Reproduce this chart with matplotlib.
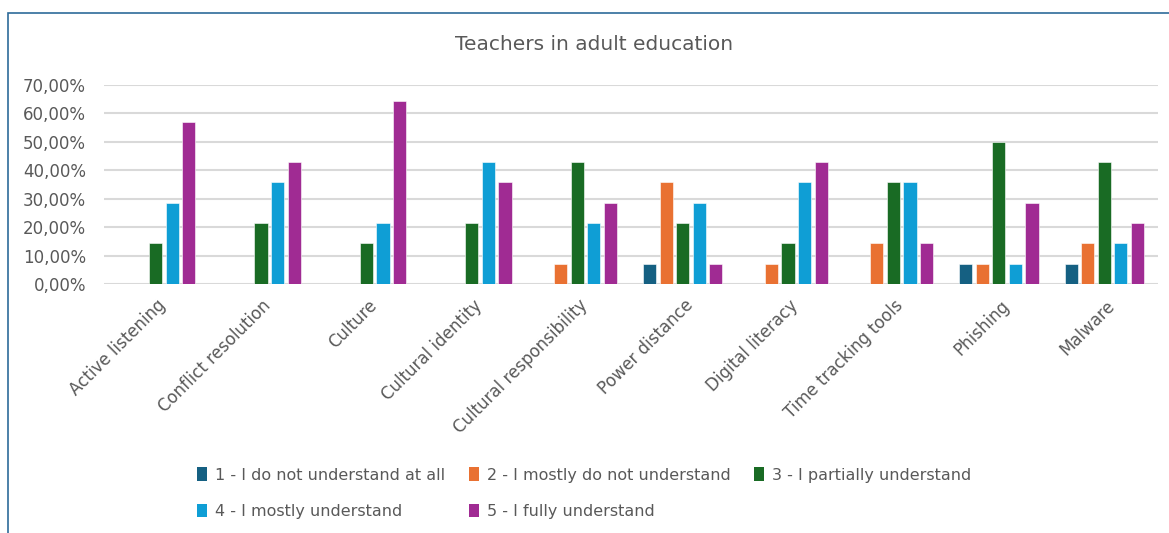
import matplotlib
matplotlib.use("Agg")
import matplotlib.pyplot as plt
import numpy as np
from matplotlib.patches import Rectangle, Patch
from matplotlib.ticker import FuncFormatter, MultipleLocator

categories = ["Active listening", "Conflict resolution", "Culture", "Cultural identity",
              "Cultural responsibility", "Power distance", "Digital literacy",
              "Time tracking tools", "Phishing", "Malware"]
series_names = ["1 - I do not understand at all", "2 - I mostly do not understand",
                "3 - I partially understand", "4 - I mostly understand",
                "5 - I fully understand"]
s1 = [0, 0, 0, 0, 0, 7.14, 0, 0, 7.14, 7.14]
s2 = [0, 0, 0, 0, 7.14, 35.71, 7.14, 14.29, 7.14, 14.29]
s3 = [14.29, 21.43, 14.29, 21.43, 42.86, 21.43, 14.29, 35.71, 50.00, 42.86]
s4 = [28.57, 35.71, 21.43, 42.86, 21.43, 28.57, 35.71, 35.71, 7.14, 14.29]
s5 = [57.14, 42.86, 64.29, 35.71, 28.57, 7.14, 42.86, 14.29, 28.57, 21.43]
series = [s1, s2, s3, s4, s5]
colors = ["#156082", "#E97132", "#196B24", "#0F9ED5", "#A02B93"]

plt.rcParams['font.family'] = ['DejaVu Sans']
grey = "#595959"

fig = plt.figure(figsize=(11.69, 5.33), dpi=100)
ax = fig.add_axes([104/1169, 1-284/533, (1158-104)/1169, (284-85)/533])

x = np.arange(len(categories))
step = 0.157
width = 0.125
for i, (vals, c) in enumerate(zip(series, colors)):
    ax.bar(x + (i-2)*step - 0.01, np.array(vals)/100, width=width, color=c,
           edgecolor="white", linewidth=0.4, zorder=3, label=series_names[i])

ax.set_xlim(-0.5, len(categories)-0.5)
ax.set_ylim(0, 0.7)
ax.yaxis.set_major_locator(MultipleLocator(0.1))
ax.yaxis.set_major_formatter(FuncFormatter(lambda v, p: f"{v*100:.2f}%".replace(".", ",")))
ax.grid(axis="y", color="#D9D9D9", linewidth=1.5, zorder=0)
for s in ["top", "right", "left", "bottom"]:
    ax.spines[s].set_visible(False)
ax.tick_params(axis="both", length=0, colors=grey, labelsize=12)
ax.tick_params(axis="y", pad=13)
ax.set_xticks(x)
ax.set_xticklabels(categories, rotation=45, ha="right", rotation_mode="anchor", fontsize=12, color=grey)
ax.tick_params(axis="x", pad=9)

fig.text(594/1169, 1-45/533, "Teachers in adult education", ha="center", va="center",
         fontsize=14.5, color=grey)

order = [0, 3, 1, 4, 2]
handles = [Patch(facecolor=colors[k], edgecolor="none") for k in order]
labels = [series_names[k] for k in order]
leg = fig.legend(handles, labels, ncol=3, loc="upper left",
                 bbox_to_anchor=(183/1169, 1-453/533), frameon=False,
                 fontsize=11.5, labelcolor=grey, handlelength=0.6, handleheight=0.9,
                 handletextpad=0.5, columnspacing=1.5, labelspacing=1.35)

fig.patches.append(Rectangle((8/1169, -0.02), 1.05, 1-13/533+0.02, transform=fig.transFigure,
                             fill=False, edgecolor="#2E6B99", linewidth=1.2))

fig.savefig("out.png", dpi=100)
